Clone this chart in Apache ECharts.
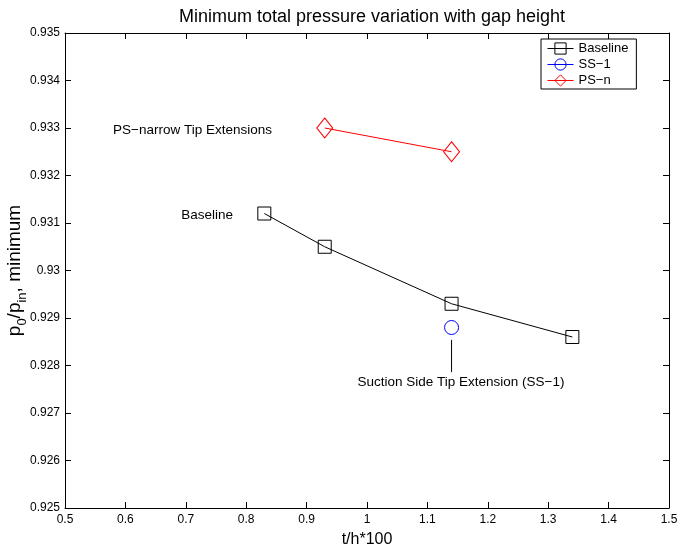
<!DOCTYPE html>
<html><head><meta charset="utf-8">
<script src="https://cdn.jsdelivr.net/npm/echarts@6/dist/echarts.min.js"></script>
<style>html,body{margin:0;padding:0;background:#fff}#c{width:679px;height:554px}</style>
</head><body><div id="c"></div>
<script>
const baselineX = [0.83, 0.93, 1.14, 1.34];
const baselineY = [0.9312, 0.9305, 0.9293, 0.9286];
const ss1X = [1.14];
const ss1Y = [0.9288];
const psnX = [0.93, 1.14];
const psnY = [0.9330, 0.9325];
const xTicks = [0.5, 0.6, 0.7, 0.8, 0.9, 1, 1.1, 1.2, 1.3, 1.4, 1.5];
const yTicks = [0.925, 0.926, 0.927, 0.928, 0.929, 0.93, 0.931, 0.932, 0.933, 0.934, 0.935];
const annotations = [
  {text: 'PS\u2212narrow Tip Extensions', x: 0.8427, y: 0.93296, align: 'right'},
  {text: 'Baseline', x: 0.778, y: 0.93117, align: 'right'},
  {text: 'Suction Side Tip Extension (SS\u22121)', x: 1.1556, y: 0.92765, align: 'center'}
];
const pointerLine = {x: 1.14, y1: 0.92854, y2: 0.92786};

const FONT = 'Liberation Sans, Arial, Helvetica, sans-serif';
const zip = (a, b) => a.map((v, i) => [v, b[i]]);
const chart = echarts.init(document.getElementById('c'));
chart.setOption({
  animation: false,
  backgroundColor: '#fff',
  textStyle: {fontFamily: FONT},
  title: {
    text: 'Minimum total pressure variation with gap height',
    left: 367, top: 3, textAlign: 'center',
    textStyle: {fontFamily: FONT, fontSize: 18, fontWeight: 'normal', color: '#000'}
  },
  grid: {left: 65, right: 10, top: 33, bottom: 46, containLabel: false, outerBoundsMode: 'none'},
  legend: {
    orient: 'vertical', left: 541, top: 39,
    width: 96,
    padding: [3, 8, 2, 6],
    itemGap: 3,
    itemWidth: 26, itemHeight: 14,
    borderColor: '#000', borderWidth: 1, backgroundColor: '#fff',
    lineStyle: {width: 1},
    itemStyle: {borderWidth: 1},
    textStyle: {fontFamily: FONT, fontSize: 13, color: '#000'},
    data: ['Baseline', 'SS\u22121', 'PS\u2212n']
  },
  xAxis: [{
    type: 'value', min: 0.5, max: 1.5, interval: 0.1,
    name: 't/h*100', nameLocation: 'middle', nameGap: 24,
    nameTextStyle: {fontFamily: FONT, fontSize: 16, color: '#000'},
    axisLine: {show: true, onZero: false, lineStyle: {color: '#000', width: 1}},
    axisTick: {inside: true, length: 6, lineStyle: {color: '#000'}},
    axisLabel: {fontFamily: FONT, fontSize: 12, color: '#000', margin: 6,
      formatter: v => String(+v.toFixed(1))},
    splitLine: {show: false}
  }, {
    type: 'value', position: 'top', min: 0.5, max: 1.5, interval: 0.1,
    axisLine: {show: true, onZero: false, lineStyle: {color: '#000', width: 1}},
    axisTick: {inside: true, length: 6, lineStyle: {color: '#000'}},
    axisLabel: {show: false}, splitLine: {show: false}
  }],
  yAxis: [{
    type: 'value', min: 0.925, max: 0.935, interval: 0.001,
    name: '{a|p}{s|0}{a|/p}{s|in}{a|, minimum}', nameLocation: 'middle', nameGap: 36,
    nameMoveOverlap: false,
    nameTextStyle: {fontFamily: FONT, fontSize: 16, color: '#000',
      rich: {a: {fontFamily: FONT, fontSize: 19, color: '#000', verticalAlign: 'top'},
             s: {fontFamily: FONT, fontSize: 13, color: '#000', verticalAlign: 'bottom', padding: [11,0,0,0]}}},
    axisLine: {show: true, onZero: false, lineStyle: {color: '#000', width: 1}},
    axisTick: {inside: true, length: 6, lineStyle: {color: '#000'}},
    axisLabel: {fontFamily: FONT, fontSize: 12, color: '#000', margin: 5,
      formatter: v => String(+v.toFixed(3))},
    splitLine: {show: false}
  }, {
    type: 'value', position: 'right', min: 0.925, max: 0.935, interval: 0.001,
    axisLine: {show: true, onZero: false, lineStyle: {color: '#000', width: 1}},
    axisTick: {inside: true, length: 6, lineStyle: {color: '#000'}},
    axisLabel: {show: false}, splitLine: {show: false}
  }],
  series: [{
    name: 'Baseline', type: 'line', data: zip(baselineX, baselineY),
    symbol: 'rect', symbolSize: 13, showAllSymbol: true,
    color: '#000',
    lineStyle: {color: '#000', width: 1},
    itemStyle: {color: 'rgba(0,0,0,0)', borderColor: '#000', borderWidth: 1}
  }, {
    name: 'SS\u22121', type: 'line', data: zip(ss1X, ss1Y),
    symbol: 'circle', symbolSize: 14, showAllSymbol: true,
    color: '#0000ff',
    lineStyle: {color: '#0000ff', width: 1},
    itemStyle: {color: 'rgba(0,0,0,0)', borderColor: '#0000ff', borderWidth: 1}
  }, {
    name: 'PS\u2212n', type: 'line', data: zip(psnX, psnY),
    symbol: 'diamond', symbolSize: [16, 20], showAllSymbol: true,
    color: '#ff0000',
    lineStyle: {color: '#ff0000', width: 1},
    itemStyle: {color: 'rgba(0,0,0,0)', borderColor: '#ff0000', borderWidth: 1}
  }]
});
const g = [];
annotations.forEach(a => {
  const p = chart.convertToPixel({xAxisIndex: 0, yAxisIndex: 0}, [a.x, a.y]);
  g.push({type: 'text', x: p[0], y: p[1], style: {text: a.text, fill: '#000',
    font: '13.5px ' + FONT, textAlign: a.align, textVerticalAlign: 'middle'}});
});
const p1 = chart.convertToPixel({xAxisIndex: 0, yAxisIndex: 0}, [pointerLine.x, pointerLine.y1]);
const p2 = chart.convertToPixel({xAxisIndex: 0, yAxisIndex: 0}, [pointerLine.x, pointerLine.y2]);
g.push({type: 'line', shape: {x1: p1[0], y1: p1[1], x2: p2[0], y2: p2[1]}, style: {stroke: '#000', lineWidth: 1}});
chart.setOption({graphic: g});
</script></body></html>
